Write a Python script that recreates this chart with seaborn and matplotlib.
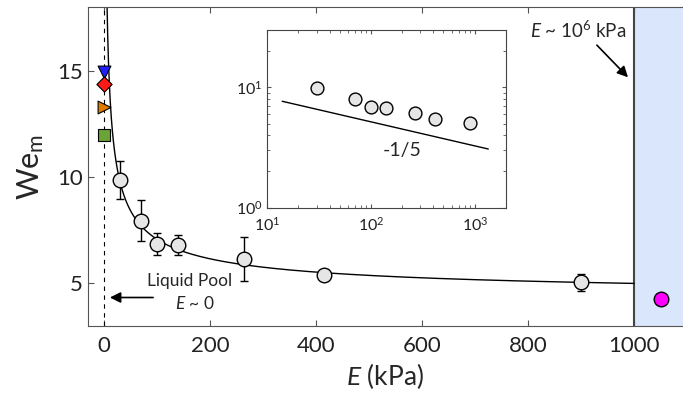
import numpy as np
import seaborn as sns
import pandas as pd
import matplotlib
matplotlib.use('Agg')
import matplotlib.pyplot as plt

# measured points (E in kPa, We_m with error)
E = [30, 70, 100, 140, 265, 415, 900]
We = [9.85, 7.95, 6.85, 6.8, 6.15, 5.42, 5.05]
We_err = [0.9, 0.97, 0.52, 0.48, 1.03, 0.12, 0.4]

# liquid pool points at E ~ 0
pool_We = [14.95, 14.4, 13.3, 12.0]
pool_markers = ['v', 'D', '>', 's']
pool_colors = ['#1f1fff', '#ff1a1a', '#e07b00', '#6aa437']

# rigid substrate point (E ~ 10^6 kPa)
rigid_E = [1050]
rigid_We = [4.29]

# fit curve parameters: We = c + b * E^-p
fit_c, fit_b, fit_p = 4.2, 37.1, 0.555
# inset -1/5 slope guide line
guide_A, guide_E = 13.0, [14, 1350]

sns.set_style('ticks')
plt.rcParams['font.family'] = ['Lato', 'DejaVu Sans']
plt.rcParams['mathtext.fontset'] = 'custom'
plt.rcParams['mathtext.rm'] = 'Lato'
plt.rcParams['mathtext.it'] = 'Lato:italic'

fig = plt.figure(figsize=(6.83, 4.03), dpi=100)
ax = fig.add_axes([88 / 683, 1 - 326 / 403, 1 - 88 / 683, (326 - 7) / 403])

ax.axvspan(1000, 1200, color='#dae6fb', zorder=0)
ax.axvline(1000, color='#444444', lw=1.5, zorder=1)
ax.axvline(0, color='black', lw=0.8, ls=(0, (4, 4)), zorder=1)

fit_x = np.linspace(3, 1000, 2000)
fit_y = fit_c + fit_b * fit_x ** (-fit_p)
sns.lineplot(x=fit_x, y=fit_y, color='black', lw=1, ax=ax, zorder=2)

df = pd.DataFrame({'E': E, 'We': We, 'err': We_err})
ax.errorbar(df['E'], df['We'], yerr=df['err'], fmt='none', ecolor='black',
            elinewidth=1, capsize=3, capthick=1, zorder=3)
sns.scatterplot(data=df, x='E', y='We', s=110, color='#e6e6e6', edgecolor='black',
                linewidth=1, ax=ax, zorder=4)

for w, m, c in zip(pool_We, pool_markers, pool_colors):
    ax.scatter([0], [w], marker=m, s=85 if m != 'D' else 60, color=c,
               edgecolor='black', linewidth=0.8, zorder=5)

sns.scatterplot(x=rigid_E, y=rigid_We, s=110, color='#ff00ff', edgecolor='black',
                linewidth=1, ax=ax, zorder=4)

ax.set_xlim(-30, 1092)
ax.set_ylim(3, 18)
ax.set_xticks([0, 200, 400, 600, 800, 1000])
ax.set_yticks([5, 10, 15])
ax.tick_params(direction='in', top=True, labelsize=16, length=4, color='#555555',
               labelcolor='#222222')
ax.tick_params(axis='x', pad=7)
for s in ['left', 'bottom', 'top']:
    ax.spines[s].set_color('#555555')
ax.spines['right'].set_visible(False)
ax.set_xlabel(r'$E$ (kPa)', fontsize=19, labelpad=4)
ax.set_ylabel(r'We$_\mathregular{m}$', fontsize=22, labelpad=8)

ax.text(162, 5.1, 'Liquid Pool', fontsize=12.5, ha='center', va='center')
ax.text(172, 4.06, r'$E$ ~ 0', fontsize=12.5, ha='center', va='center')
ax.annotate('', xy=(6, 4.34), xytext=(98, 4.34),
            arrowprops=dict(arrowstyle='-|>', color='black', lw=1.2, mutation_scale=16))
ax.text(894, 16.9, r'$E$ ~ 10$^6$ kPa', fontsize=13.5, ha='center', va='center')
ax.annotate('', xy=(992, 14.6), xytext=(926, 16.3),
            arrowprops=dict(arrowstyle='-|>', color='black', lw=1.2, mutation_scale=16))

# inset: log-log
ins = fig.add_axes([267 / 683, 1 - 207.7 / 403, (506 - 267) / 683, (207.7 - 30) / 403])
ins.set_xscale('log')
ins.set_yscale('log')
gx = np.array(guide_E, dtype=float)
ins.plot(gx, guide_A * gx ** (-0.2), color='black', lw=1)
ins.errorbar(df['E'], df['We'], yerr=df['err'] * 0.35, fmt='none', ecolor='black',
             elinewidth=1, capsize=1.5, zorder=3)
sns.scatterplot(data=df, x='E', y='We', s=85, color='#e6e6e6', edgecolor='black',
                linewidth=1, ax=ins, zorder=4)
ins.set_xlim(10, 2000)
ins.set_ylim(1, 30)
ins.set_xlabel('')
ins.set_ylabel('')
ins.tick_params(which='both', direction='in', top=True, right=True, labelsize=11.5,
                color='#555555', labelcolor='#222222')
ins.tick_params(which='major', length=3)
ins.tick_params(which='minor', length=2)
ins.tick_params(axis='x', pad=6)
ins.tick_params(axis='y', pad=3)
for s in ins.spines.values():
    s.set_color('#444444')
ins.text(200, 3.0, '-1/5', fontsize=14, ha='center', va='center')

fig.savefig('out.png', dpi=100)
